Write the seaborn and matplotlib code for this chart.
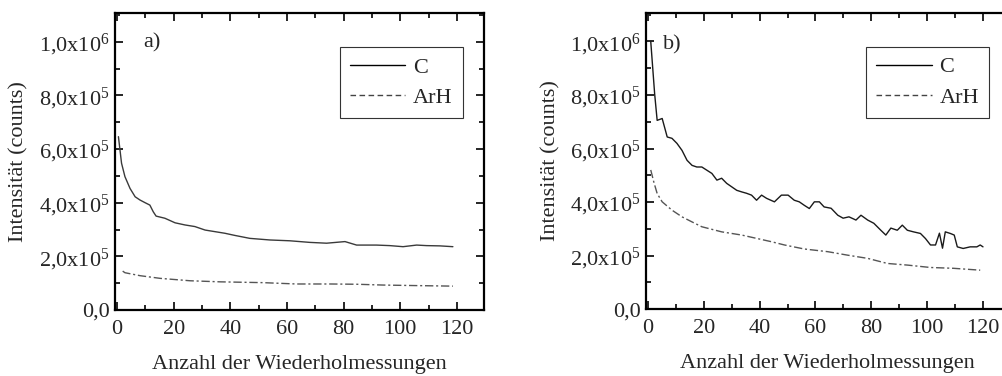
import matplotlib
matplotlib.use("Agg")
import math
import matplotlib.pyplot as plt
import seaborn as sns
import pandas as pd
from matplotlib.ticker import MultipleLocator, FuncFormatter
from matplotlib.lines import Line2D

# ---- data ----
a_c_x = [0.5, 1.6, 2.8, 4.6, 6.4, 8.1, 9.9, 11.6, 12.8, 13.8, 16.9, 20.5, 24, 27.5, 31.1, 34.6,
         38.1, 41.6, 46.9, 54, 61, 68.1, 74, 80.5, 84.6, 86.9, 91.6, 96.3, 101, 105.8, 109.3, 114, 118.6]
a_c_y = [646, 547, 497, 453, 422, 410, 400, 391, 366, 350, 342, 325, 317, 311, 298, 292,
         286, 278, 267, 261, 258, 252, 249, 255, 242, 242, 242, 240, 236, 242, 240, 239, 236]
a_arh_x = [2.0, 2.8, 8.1, 15.2, 25.8, 36.4, 51.5, 63.4, 75.2, 84.6, 94, 105.8, 118.6]
a_arh_y = [145, 139, 128, 118, 109, 105, 102, 97, 97, 96, 93, 91, 89]

b_c_x = [1.0, 1.5, 2.4, 3.3, 5.1, 6.9, 8.6, 10.4, 12.2, 14, 15.8, 17.5, 19.3, 21.1, 22.9, 24.7,
         26.4, 28.2, 30, 31.8, 33.6, 35.3, 37.1, 38.9, 40.7, 42.5, 45.3, 47.8, 50.2, 52.4, 54.2,
         56, 57.8, 59.6, 61.4, 63.1, 65.6, 68, 69.9, 72, 74.5, 76.3, 78.7, 80.9, 83.4, 85.2, 87,
         89.3, 91.1, 92.9, 95.1, 97.6, 99.4, 101.2, 103, 104.4, 105.5, 106.5, 108.3, 109.7, 110.8,
         112.9, 115.4, 117.8, 119, 120]
b_c_y = [1000, 930, 804, 705, 712, 643, 638, 619, 593, 556, 537, 531, 531, 519, 507, 482,
         489, 470, 457, 444, 438, 433, 426, 407, 426, 414, 401, 426, 426, 407, 401,
         388, 376, 401, 401, 382, 377, 351, 340, 345, 333, 351, 333, 321, 295, 277, 303,
         295, 314, 295, 289, 283, 264, 240, 240, 284, 228, 289, 283, 277, 233,
         227, 233, 233, 240, 233]
b_arh_x = [1.0, 2.1, 3.3, 5.1, 8.6, 12.2, 15.8, 19.3, 26.4, 33.6, 44.3, 48.9, 56, 64.4,
           71.5, 78.7, 85.8, 92.9, 101.2, 109.4, 119]
b_arh_y = [520, 475, 432, 401, 370, 345, 326, 308, 289, 277, 252, 240, 225, 215,
           202, 190, 171, 165, 156, 153, 146]

series_labels = ["C", "ArH"]
panel_labels = ["a)", "b)"]
x_label = "Anzahl der Wiederholmessungen"
y_label = "Intensität (counts)"

# ---- style ----
sns.set_style("ticks")
plt.rcParams["font.family"] = ["Liberation Serif", "DejaVu Serif"]
plt.rcParams["mathtext.fontset"] = "custom"
plt.rcParams["mathtext.rm"] = "Liberation Serif"
plt.rcParams["mathtext.it"] = "Liberation Serif:italic"
plt.rcParams["axes.linewidth"] = 1.6

FS = 16


def yfmt(v, pos):
    if v == 0:
        return "0,0"
    e = int(math.floor(math.log10(abs(v)) + 1e-9))
    m = v / 10 ** e
    return ("%.1f" % m).replace(".", ",") + "x10$^{%d}$" % e


fig = plt.figure(figsize=(10.02, 3.76), dpi=100)
ax_a = fig.add_axes([0.1148, 0.1755, 0.368, 0.790])
ax_b = fig.add_axes([0.6447, 0.1774, 0.3628, 0.789])

panels = [
    (ax_a, a_c_x, a_c_y, a_arh_x, a_arh_y, (0.076, 0.90)),
    (ax_b, b_c_x, b_c_y, b_arh_x, b_arh_y, (0.046, 0.89)),
]

for i, (ax, cx, cy, hx, hy, lab_pos) in enumerate(panels):
    dfc = pd.DataFrame({"x": cx, "y": [v * 1000 for v in cy]})
    dfh = pd.DataFrame({"x": hx, "y": [v * 1000 for v in hy]})
    c_col = "#3a3a3a" if i == 0 else "#1a1a1a"
    sns.lineplot(data=dfc, x="x", y="y", ax=ax, color=c_col, lw=1.0, estimator=None, sort=False)
    sns.lineplot(data=dfh, x="x", y="y", ax=ax, color="#555555", lw=1.0, estimator=None,
                 sort=False, linestyle=(0, (6, 2, 1.5, 2)))
    ax.set_xlim(-0.7, 129.5)
    ax.set_ylim(0, 1.107e6)
    ax.xaxis.set_major_locator(MultipleLocator(20))
    ax.xaxis.set_minor_locator(MultipleLocator(10))
    ax.yaxis.set_major_locator(MultipleLocator(2e5))
    ax.yaxis.set_minor_locator(MultipleLocator(1e5))
    ax.yaxis.set_major_formatter(FuncFormatter(yfmt))
    ax.tick_params(which="both", direction="in", top=True, right=True, width=1.4,
                   labelsize=FS)
    ax.tick_params(axis="x", which="both", pad=7)
    ax.tick_params(axis="y", which="both", pad=4)
    ax.tick_params(which="major", length=6)
    ax.tick_params(which="minor", length=3.5)
    for s in ax.spines.values():
        s.set_visible(True)
        s.set_color("black")
    ax.set_xlabel(x_label, fontsize=FS)
    ax.set_ylabel(y_label, fontsize=FS)
    ax.yaxis.set_label_coords(-0.236, 0.5)
    ax.xaxis.set_label_coords(0.5, -0.152)
    ax.text(lab_pos[0], lab_pos[1], panel_labels[i], transform=ax.transAxes,
            fontsize=FS, va="center", ha="left")
    handles = [Line2D([], [], color="black", lw=1.0),
               Line2D([], [], color="#444444", lw=1.0, linestyle=(0, (4, 2.5)))]
    leg = ax.legend(handles, series_labels, loc="upper right",
                    bbox_to_anchor=(0.943, 0.885), fontsize=FS, frameon=True,
                    fancybox=False, framealpha=1, edgecolor="#333333",
                    handlelength=2.5, handletextpad=0.35, borderpad=0.45,
                    labelspacing=0.45, borderaxespad=0)
    leg.get_frame().set_linewidth(0.8)

fig.savefig("out.png", dpi=100)
